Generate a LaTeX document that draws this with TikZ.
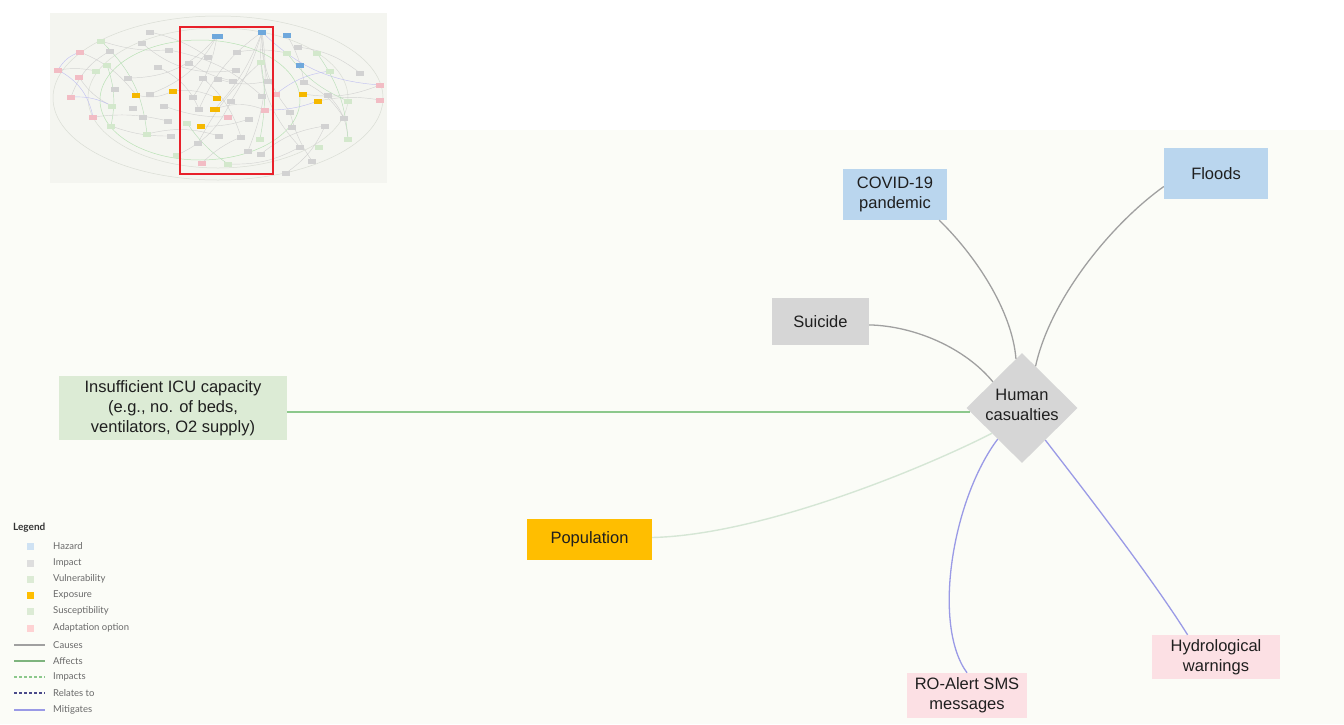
\documentclass[tikz,border=0pt]{standalone}
\usepackage{fontspec}
\setmainfont{Liberation Sans}
\newfontfamily\legendfont{Lato}
\usetikzlibrary{shapes.geometric}

% node fills
\definecolor{hazardfill}{HTML}{BAD6EE}
\definecolor{impactfill}{HTML}{D6D6D6}
\definecolor{vulnfill}{HTML}{DCEBD5}
\definecolor{exposurefill}{HTML}{FFBE00}
\definecolor{adaptfill}{HTML}{FCE0E4}
% connector colours
\definecolor{causeline}{HTML}{A0A0A0}
\definecolor{affectline}{HTML}{8CC88C}
\definecolor{impactline}{HTML}{D5E6D5}
\definecolor{relateline}{HTML}{4A4A8A}
\definecolor{mitigline}{HTML}{9A9AE6}
% panels
\definecolor{canvasbg}{HTML}{FBFCF7}
\definecolor{overviewbg}{HTML}{F4F5F0}
\definecolor{overviewedge}{HTML}{DADDD5}
\definecolor{framered}{HTML}{E8202A}
\definecolor{nodetext}{HTML}{1F1F1F}
\definecolor{legendtext}{HTML}{6A6A6A}
% small overview colours
\definecolor{ovblue}{HTML}{6FA8DC}
\definecolor{ovorange}{HTML}{F5B800}
\definecolor{ovpink}{HTML}{F2BCC4}
\definecolor{ovgreen}{HTML}{D3E8CC}
\definecolor{ovgray}{HTML}{D2D2D2}

\tikzset{
  box/.style={rectangle, inner sep=0pt, align=center, text=nodetext,
              font=\fontsize{16.5}{20}\selectfont},
  hazard/.style={box, fill=hazardfill},
  impactbox/.style={box, fill=impactfill},
  vuln/.style={box, fill=vulnfill},
  exposure/.style={box, fill=exposurefill},
  adapt/.style={box, fill=adaptfill},
  causes/.style={draw=causeline, line width=1.3pt},
  affects/.style={draw=affectline, line width=1.3pt},
  impacts/.style={draw=impactline, line width=1.4pt},
  mitigates/.style={draw=mitigline, line width=1.3pt},
  legtext/.style={anchor=west, inner sep=0pt, text=legendtext,
                  font=\legendfont\fontsize{9.5}{11}\selectfont},
  legswatch/.style={rectangle, inner sep=0pt, minimum width=7pt, minimum height=7pt},
  ovnode/.style={rectangle, inner sep=0pt, minimum width=8pt, minimum height=5pt},
}

\begin{document}
\begin{tikzpicture}[x=1pt,y=-1pt]
\useasboundingbox (0,0) rectangle (1344,724);
\fill[white] (0,0) rectangle (1344,724);
\fill[canvasbg] (0,130) rectangle (1344,724);

% ---------- overview of the full graph ----------
\fill[overviewbg] (50,13) rectangle (387,183);
\begin{scope}
  \clip (50,13) rectangle (387,183);
  \draw[overviewedge, line width=0.5pt] (218,98) ellipse [x radius=165, y radius=82];
  \draw[overviewedge, line width=0.5pt] (218,98) ellipse [x radius=130, y radius=70];
  \draw[overviewedge!85!green, line width=0.5pt] (200,100) ellipse [x radius=100, y radius=60];
  \foreach \ax/\ay/\bx/\by/\bd in {
    217/36/150/94/20, 262/32/199/109/-15, 262/32/215/109/10, 262/32/248/151/15,
    262/32/290/112/-20, 287/35/304/82/10, 217/36/128/78/25, 110/51/71/97/-20,
    80/52/136/95/15, 58/70/96/71/10, 79/77/112/106/-15, 93/117/168/121/10,
    136/95/173/91/-20, 173/91/217/98/15, 201/126/249/119/-10, 215/109/265/110/20,
    203/78/241/137/15, 189/63/233/81/-10, 158/67/199/109/20, 142/43/236/70/-25,
    169/50/262/96/15, 303/94/380/85/-15, 318/101/380/100/10, 298/47/360/73/15,
    328/95/348/139/20, 290/112/312/161/-10, 261/154/325/126/15, 228/164/300/147/-15,
    198/143/261/62/10, 177/155/231/101/-20, 147/134/219/136/15, 111/126/171/136/-10,
    304/82/344/118/15, 218/79/268/81/-15, 237/52/287/53/10, 101/41/169/50/-10,
    202/163/241/137/10, 286/173/325/126/-15, 150/32/208/57/10, 164/106/228/117/-10,
    262/32/231/101/8, 262/32/268/81/-8, 217/36/193/97/12, 262/32/300/147/-25}
    \draw[ovgray!85!gray, line width=0.45pt, opacity=0.7] (\ax,\ay) to[bend left=\bd] (\bx,\by);
  \foreach \ax/\ay/\bx/\by/\bd in {
    58/70/93/117/25, 80/52/58/70/-20, 71/97/112/106/15, 262/32/380/85/-20,
    276/94/330/71/15, 265/110/318/101/-10}
    \draw[mitigline!60, line width=0.45pt] (\ax,\ay) to[bend left=\bd] (\bx,\by);
  \foreach \ax/\ay/\bx/\by/\bd in {
    101/41/147/134/20, 261/62/260/139/10, 287/53/348/101/-15, 317/53/348/139/15,
    187/123/228/164/-10, 107/65/111/126/15}
    \draw[affectline!60, line width=0.45pt] (\ax,\ay) to[bend left=\bd] (\bx,\by);
\end{scope}
% overview nodes
\foreach \px/\py [count=\i] in {262/32,287/35,300/65}
  \node[ovnode, fill=ovblue] (ovh\i) at (\px,\py) {};
\node[ovnode, fill=ovblue, minimum width=11pt] (ovhw) at (217,36) {};
\foreach \px/\py [count=\i] in {136/95,173/91,217/98,201/126,303/94,318/101}
  \node[ovnode, fill=ovorange] (ove\i) at (\px,\py) {};
\node[ovnode, fill=ovorange, minimum width=10pt] (ovew) at (215,109) {};
\foreach \px/\py [count=\i] in {80/52,58/70,79/77,71/97,93/117,228/117,265/110,276/94,380/85,380/100,202/163}
  \node[ovnode, fill=ovpink] (ova\i) at (\px,\py) {};
\foreach \px/\py [count=\i] in {101/41,107/65,96/71,112/106,111/126,147/134,177/155,187/123,
    261/62,260/139,287/53,317/53,330/71,348/101,348/139,319/147,228/164}
  \node[ovnode, fill=ovgreen] (ovv\i) at (\px,\py) {};
\foreach \px/\py [count=\i] in {150/32,142/43,110/51,169/50,158/67,128/78,115/89,150/94,133/108,
    164/106,143/117,168/121,171/136,189/63,208/57,237/52,203/78,218/79,233/81,236/70,193/97,
    199/109,231/101,249/119,219/136,241/137,198/143,248/151,261/154,268/81,262/96,298/47,
    304/82,290/112,328/95,325/126,344/118,360/73,300/147,312/161,286/173,292/127}
  \node[ovnode, fill=ovgray] (ovi\i) at (\px,\py) {};
% viewport frame
\draw[framered, line width=2pt] (180,27) rectangle (273,174);

% ---------- nodes ----------
\node[hazard, minimum width=104pt, minimum height=51pt] (covid) at (895,194.5) {COVID-19\\pandemic};
\node[hazard, minimum width=104pt, minimum height=51pt] (floods) at (1216,173.5) {Floods};
\node[impactbox, minimum width=97pt, minimum height=47pt] (suicide) at (820.5,321.5) {Suicide};
\node[diamond, fill=impactfill, inner sep=0pt, minimum width=111pt, minimum height=110pt] (hc) at (1022,408) {};
\node[box, yshift=3pt] (hclabel) at (hc.center) {Human\\casualties};
\node[vuln, minimum width=228pt, minimum height=64pt] (icu) at (173,408)
  {Insufficient ICU capacity\\(e.g., no. of beds,\\ventilators, O2 supply)};
\node[exposure, minimum width=125pt, minimum height=41pt] (pop) at (589.5,539.5) {Population};
\node[adapt, minimum width=120pt, minimum height=45pt] (roalert) at (967,695.5) {RO-Alert SMS\\messages};
\node[adapt, minimum width=128pt, minimum height=44pt] (hydro) at (1216,657) {Hydrological\\warnings};

% ---------- connectors ----------
\draw[causes] ([xshift=-8pt]covid.south east) .. controls (975,255) and (1012,310) .. (hc.97);
\draw[causes] (floods.194) .. controls (1110,225) and (1050,300) .. (hc.72);
\draw[causes] (suicide.-4) .. controls (915,326) and (965,348) .. (hc.138);
\draw[affects] ([yshift=-4pt]icu.east) -- ([yshift=-4pt,xshift=4pt]hc.west);
\draw[impacts] ([yshift=2pt]pop.east) .. controls (760,535) and (920,470) .. (hc.220);
\draw[mitigates] (hc.232) .. controls (952,500) and (932,625) .. (roalert.north);
\draw[mitigates] (hc.-54) .. controls (1080,485) and (1150,575) .. (hydro.142);

% ---------- legend ----------
\node[anchor=west, inner sep=0pt, text=nodetext!90, font=\legendfont\bfseries\fontsize{10}{12}\selectfont]
  (legtitle) at (13,528) {Legend};
\node[legswatch, fill=hazardfill!70] (swh) at (30,546) {};
\node[legtext] (lh) at (53,546) {Hazard};
\node[legswatch, fill=impactfill!80] (swi) at (30,563) {};
\node[legtext] (li) at (53,563) {Impact};
\node[legswatch, fill=vulnfill] (swv) at (30,579) {};
\node[legtext] (lv) at (53,579) {Vulnerability};
\node[legswatch, fill=exposurefill] (swe) at (30,595) {};
\node[legtext] (le) at (53,595) {Exposure};
\node[legswatch, fill=vulnfill] (sws) at (30,611) {};
\node[legtext] (ls) at (53,611) {Susceptibility};
\node[legswatch, fill=adaptfill!80!red!60] (swa) at (30,628) {};
\node[legtext] (la) at (53,628) {Adaptation option};
\coordinate (c1) at (14,645); \coordinate (c2) at (45,645);
\draw[causeline, line width=1.1pt] (c1) -- (c2);
\node[legtext] (lc) at (53,645) {Causes};
\coordinate (a1) at (14,661); \coordinate (a2) at (45,661);
\draw[affectline!90!black, line width=1.1pt] (a1) -- (a2);
\node[legtext] (laf) at (53,661) {Affects};
\coordinate (m1) at (14,677); \coordinate (m2) at (45,677);
\draw[affectline, line width=1.1pt, dash pattern=on 2.5pt off 2.5pt] (m1) -- (m2);
\node[legtext] (lim) at (53,677) {Impacts};
\coordinate (r1) at (14,693); \coordinate (r2) at (45,693);
\draw[relateline, line width=1.1pt, dash pattern=on 2.5pt off 2.5pt] (r1) -- (r2);
\node[legtext] (lr) at (53,693) {Relates to};
\coordinate (g1) at (14,710); \coordinate (g2) at (45,710);
\draw[mitigline, line width=1.1pt] (g1) -- (g2);
\node[legtext] (lm) at (53,710) {Mitigates};
\end{tikzpicture}
\end{document}
